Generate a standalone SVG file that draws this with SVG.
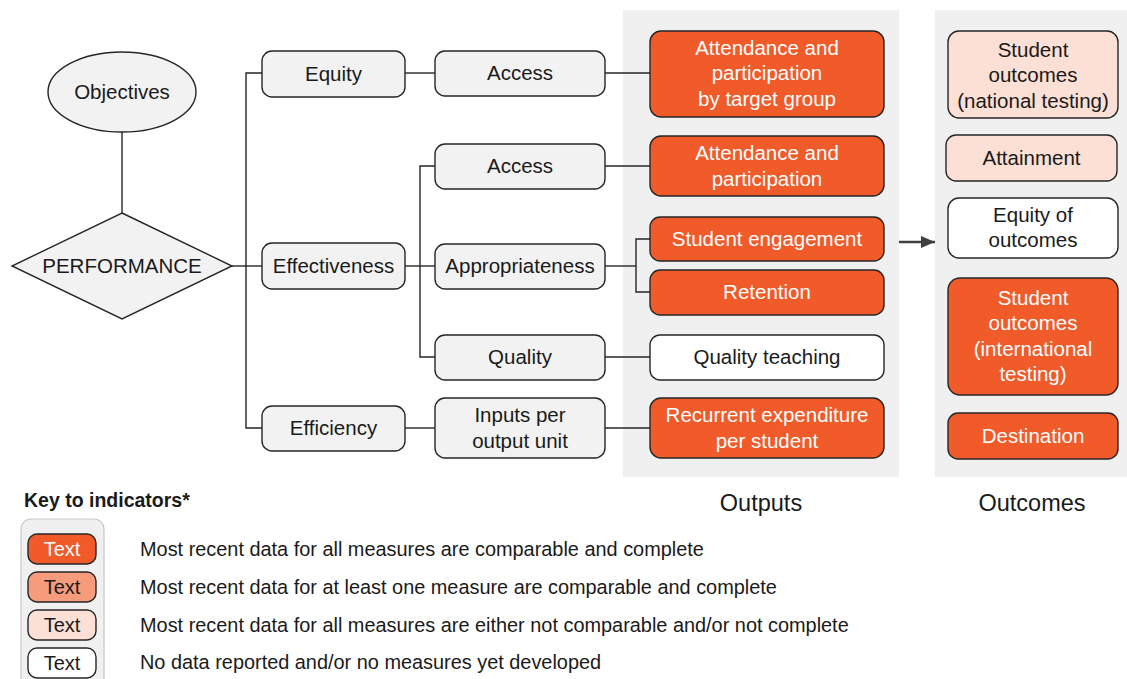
<svg xmlns="http://www.w3.org/2000/svg" width="1127" height="679" viewBox="0 0 1127 679">
<defs>
<style>
text{font-family:"Liberation Sans",Arial,sans-serif;font-size:20.5px;text-anchor:middle;fill:#1a1a1a}
.n rect,.n ellipse,.n polygon{stroke:#262626;stroke-width:1.4}
.g{fill:#f2f2f2}
.d{fill:#f15a29}
.m{fill:#f79b7d}
.l{fill:#fcdfd5}
.w{fill:#ffffff}
.wt{fill:#ffffff}
.lg{font-size:19.9px;text-anchor:start}
.cap{font-size:23.5px}
#connectors line,#connectors path{stroke:#262626;stroke-width:1.4;fill:none}
</style>
<marker id="arr" viewBox="0 0 14 12" refX="14" refY="6" markerWidth="14" markerHeight="12" orient="auto" markerUnits="userSpaceOnUse">
<path d="M0,0 L14,6 L0,12 z" fill="#404040"/>
</marker>
</defs>
<rect width="1127" height="679" fill="#ffffff"/>
<rect x="623" y="10" width="276" height="467" fill="#f0f0f0"/>
<rect x="935" y="10" width="192" height="467" fill="#f0f0f0"/>

<g id="connectors">
<line x1="122" y1="132" x2="122" y2="213"/>
<line x1="232" y1="266" x2="262" y2="266"/>
<path d="M262,73 H246 V428 H262"/>
<line x1="405" y1="73" x2="435" y2="73"/>
<line x1="605" y1="73" x2="650" y2="73"/>
<line x1="405" y1="266" x2="435" y2="266"/>
<path d="M435,166 H420 V357 H435"/>
<line x1="605" y1="166" x2="650" y2="166"/>
<line x1="605" y1="266" x2="636" y2="266"/>
<path d="M650,239 H636 V292 H650"/>
<line x1="605" y1="357" x2="650" y2="357"/>
<line x1="405" y1="428" x2="435" y2="428"/>
<line x1="605" y1="428" x2="650" y2="428"/>
<line x1="899" y1="242" x2="935" y2="242" style="stroke:#404040;stroke-width:2.5" marker-end="url(#arr)"/>
</g>

<g id="objectives" class="n"><ellipse cx="122" cy="92" rx="74" ry="40" class="g"/><text x="122" y="99">Objectives</text></g>
<g id="performance" class="n"><polygon points="122,213 232,266 122,319 12,266" class="g"/><text x="122" y="273">PERFORMANCE</text></g>

<g id="equity" class="n"><rect x="262" y="51" width="143" height="46" rx="10" class="g"/><text x="333.5" y="81">Equity</text></g>
<g id="effectiveness" class="n"><rect x="262" y="243" width="143" height="46" rx="10" class="g"/><text x="333.5" y="273">Effectiveness</text></g>
<g id="efficiency" class="n"><rect x="262" y="406" width="143" height="45" rx="10" class="g"/><text x="333.5" y="435">Efficiency</text></g>

<g id="access1" class="n"><rect x="435" y="51" width="170" height="45" rx="10" class="g"/><text x="520" y="80">Access</text></g>
<g id="access2" class="n"><rect x="435" y="144" width="170" height="45" rx="10" class="g"/><text x="520" y="173">Access</text></g>
<g id="appropriateness" class="n"><rect x="435" y="244" width="170" height="45" rx="10" class="g"/><text x="520" y="273">Appropriateness</text></g>
<g id="quality" class="n"><rect x="435" y="335" width="170" height="45" rx="10" class="g"/><text x="520" y="364">Quality</text></g>
<g id="inputs" class="n"><rect x="435" y="398" width="170" height="60" rx="10" class="g"/><text x="520" y="422">Inputs per</text><text x="520" y="448">output unit</text></g>

<g id="attendance-target" class="n"><rect x="650" y="31" width="234" height="86" rx="11" class="d"/><text class="wt" x="767" y="55">Attendance and</text><text class="wt" x="767" y="80">participation</text><text class="wt" x="767" y="106">by target group</text></g>
<g id="attendance" class="n"><rect x="650" y="136" width="234" height="60" rx="11" class="d"/><text class="wt" x="767" y="160">Attendance and</text><text class="wt" x="767" y="186">participation</text></g>
<g id="engagement" class="n"><rect x="650" y="217" width="234" height="44" rx="10" class="d"/><text class="wt" x="767" y="246">Student engagement</text></g>
<g id="retention" class="n"><rect x="650" y="270" width="234" height="45" rx="10" class="d"/><text class="wt" x="767" y="299">Retention</text></g>
<g id="quality-teaching" class="n"><rect x="650" y="335" width="234" height="45" rx="10" class="w"/><text x="767" y="364">Quality teaching</text></g>
<g id="recurrent" class="n"><rect x="650" y="398" width="234" height="60" rx="11" class="d"/><text class="wt" x="767" y="422">Recurrent expenditure</text><text class="wt" x="767" y="448">per student</text></g>

<g id="outcomes-national" class="n"><rect x="948" y="31" width="170" height="87" rx="11" class="l"/><text x="1033" y="57">Student</text><text x="1033" y="82">outcomes</text><text x="1033" y="108">(national testing)</text></g>
<g id="attainment" class="n"><rect x="946" y="135" width="171" height="46" rx="10" class="l"/><text x="1031.5" y="165">Attainment</text></g>
<g id="equity-outcomes" class="n"><rect x="948" y="198" width="170" height="60" rx="11" class="w"/><text x="1033" y="222">Equity of</text><text x="1033" y="247">outcomes</text></g>
<g id="outcomes-international" class="n"><rect x="948" y="278" width="170" height="117" rx="12" class="d"/><text class="wt" x="1033" y="305">Student</text><text class="wt" x="1033" y="330">outcomes</text><text class="wt" x="1033" y="356">(international</text><text class="wt" x="1033" y="381">testing)</text></g>
<g id="destination" class="n"><rect x="948" y="413" width="170" height="46" rx="10" class="d"/><text class="wt" x="1033" y="443">Destination</text></g>

<text class="cap" x="761" y="511">Outputs</text>
<text class="cap" x="1032" y="511">Outcomes</text>

<g id="legend">
<text x="24" y="507" style="font-weight:bold;font-size:19.5px;text-anchor:start">Key to indicators*</text>
<rect x="21" y="519" width="83" height="175" rx="10" fill="#f0f0f0" stroke="#c8c8c8" stroke-width="1.2"/>
<g class="n"><rect x="28" y="534" width="68" height="30" rx="9" class="d"/><text class="wt" x="62" y="556" style="font-size:20px">Text</text></g>
<g class="n"><rect x="28" y="572" width="68" height="30" rx="9" class="m"/><text x="62" y="594" style="font-size:20px">Text</text></g>
<g class="n"><rect x="28" y="610" width="68" height="30" rx="9" class="l"/><text x="62" y="632" style="font-size:20px">Text</text></g>
<g class="n"><rect x="28" y="648" width="68" height="30" rx="9" class="w"/><text x="62" y="670" style="font-size:20px">Text</text></g>
<text class="lg" x="140" y="556">Most recent data for all measures are comparable and complete</text>
<text class="lg" x="140" y="594">Most recent data for at least one measure are comparable and complete</text>
<text class="lg" x="140" y="632">Most recent data for all measures are either not comparable and/or not complete</text>
<text class="lg" x="140" y="669">No data reported and/or no measures yet developed</text>
</g>
</svg>
